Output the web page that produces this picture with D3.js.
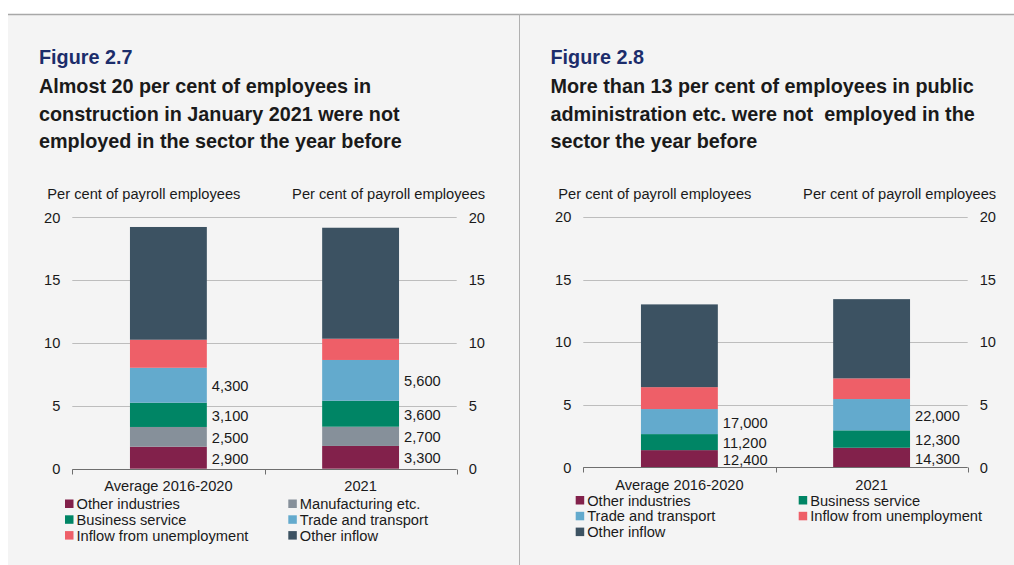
<!DOCTYPE html>
<html>
<head>
<meta charset="utf-8">
<script src="https://cdn.jsdelivr.net/npm/d3@7"></script>
<style>
  html, body { margin: 0; padding: 0; background: #ffffff; }
  svg { display: block; font-family: "Liberation Sans", Arial, Helvetica, sans-serif; }
</style>
</head>
<body>
<svg id="chart" width="1014" height="565"></svg>
<script>
// Periods on the x axis
const periods = ["Average 2016-2020", "2021"];
const yTicks = [0, 5, 10, 15, 20];
const axisTitle = "Per cent of payroll employees";

// Figure 2.7 – construction
const constructionSeries = ["Other industries", "Manufacturing etc.", "Business service",
  "Trade and transport", "Inflow from unemployment", "Other inflow"];
const constructionAvg = [1.75, 1.57, 1.93, 2.78, 2.23, 8.97];
const construction2021 = [1.81, 1.53, 2.07, 3.24, 1.69, 8.83];
const constructionCountsAvg = ["2,900", "2,500", "3,100", "4,300"];
const constructionCounts2021 = ["3,300", "2,700", "3,600", "5,600"];

// Figure 2.8 – public administration etc.
const publicSeries = ["Other industries", "Business service", "Trade and transport",
  "Inflow from unemployment", "Other inflow"];
const publicAvg = [1.38, 1.28, 2.00, 1.75, 6.61];
const public2021 = [1.57, 1.39, 2.50, 1.65, 6.33];
const publicCountsAvg = ["12,400", "11,200", "17,000"];
const publicCounts2021 = ["14,300", "12,300", "22,000"];

const seriesColor = {
  "Other industries": "#82214b",
  "Manufacturing etc.": "#86909a",
  "Business service": "#008565",
  "Trade and transport": "#63aacd",
  "Inflow from unemployment": "#ee5f68",
  "Other inflow": "#3c5262"
};

const svg = d3.select("#chart");

// Page frame: grey panel, top rule and divider
svg.append("rect").attr("x", 8).attr("y", 14).attr("width", 1006).attr("height", 551).attr("fill", "#f4f4f4");
svg.append("line").attr("x1", 8).attr("x2", 1014).attr("y1", 14.5).attr("y2", 14.5)
  .attr("stroke", "#a8a8a8").attr("stroke-width", 1.3);
svg.append("line").attr("x1", 519.5).attr("x2", 519.5).attr("y1", 14).attr("y2", 565)
  .attr("stroke", "#b0b0b0").attr("stroke-width", 1);

function drawPanel(cfg) {
  const g = svg.append("g");

  // Heading
  g.append("text").attr("x", cfg.left).attr("y", 64)
    .attr("font-size", 19.8).attr("font-weight", "bold").attr("fill", "#1c2d6b")
    .text(cfg.figure);
  cfg.title.forEach((line, i) => {
    g.append("text").attr("x", cfg.left).attr("y", 93 + i * 27.6)
      .attr("font-size", 19.8).attr("font-weight", "bold").attr("fill", "#1a1a1a")
      .attr("xml:space", "preserve")
      .text(line);
  });

  const y = d3.scaleLinear().domain([0, 20]).range([cfg.y0, cfg.y20]);
  const x = d3.scaleBand().domain(periods).range([cfg.x0, cfg.x1]).padding(0);
  const barW = x.bandwidth() * 0.4;

  // Axis titles
  g.append("text").attr("x", cfg.x0 - 25).attr("y", 199).attr("font-size", 14.67).attr("fill", "#1a1a1a")
    .text(axisTitle);
  g.append("text").attr("x", cfg.x1 + 28.5).attr("y", 199).attr("font-size", 14.67).attr("fill", "#1a1a1a")
    .attr("text-anchor", "end").text(axisTitle);

  // Gridlines
  g.selectAll(".grid").data(yTicks.filter(t => t > 0)).join("line")
    .attr("x1", cfg.x0).attr("x2", cfg.x1)
    .attr("y1", d => Math.round(y(d)) + 0.5).attr("y2", d => Math.round(y(d)) + 0.5)
    .attr("stroke", "#bdbdbd").attr("stroke-width", 1);

  // Left and right tick labels
  const leftAxis = d3.axisLeft(y).tickValues(yTicks).tickSize(0).tickPadding(12);
  const rightAxis = d3.axisRight(y).tickValues(yTicks).tickSize(0).tickPadding(12);
  [g.append("g").attr("transform", `translate(${cfg.x0},0)`).call(leftAxis),
   g.append("g").attr("transform", `translate(${cfg.x1},0)`).call(rightAxis)].forEach(a => {
    a.select(".domain").remove();
    a.selectAll("text").attr("font-size", 14.67).attr("fill", "#1a1a1a")
      .attr("font-family", "Liberation Sans, Arial, sans-serif");
  });

  // Stacked bars
  cfg.values.forEach((vals, pi) => {
    const p = periods[pi];
    const bx = x(p) + (x.bandwidth() - barW) / 2;
    let cum = 0;
    const segs = vals.map((v, si) => {
      const s = { name: cfg.series[si], lo: cum, hi: cum + v };
      cum += v;
      return s;
    });
    g.selectAll(null).data(segs).join("rect")
      .attr("x", bx).attr("width", barW)
      .attr("y", d => y(d.hi)).attr("height", d => y(d.lo) - y(d.hi))
      .attr("fill", d => seriesColor[d.name]);

    // Employee counts beside the lower segments
    const counts = cfg.counts[pi];
    g.selectAll(null).data(segs.slice(0, counts.length)).join("text")
      .attr("x", bx + barW + 5)
      .attr("y", d => (y(d.lo) + y(d.hi)) / 2 + 1)
      .attr("dominant-baseline", "central")
      .attr("font-size", 14.67).attr("fill", "#1a1a1a")
      .text((d, i) => counts[i]);

    // Category label
    g.append("text").attr("x", x(p) + x.bandwidth() / 2).attr("y", cfg.y0 + 22.5)
      .attr("text-anchor", "middle").attr("font-size", 14.67).attr("fill", "#1a1a1a")
      .text(p);
  });

  // Baseline with tick marks at the category boundaries
  const axisY = Math.round(y(0)) + 0.5;
  g.append("line").attr("x1", cfg.x0).attr("x2", cfg.x1).attr("y1", axisY).attr("y2", axisY)
    .attr("stroke", "#6e6e6e").attr("stroke-width", 1.2);
  const boundaries = [cfg.x0, x(periods[1]), cfg.x1];
  g.selectAll(null).data(boundaries).join("line")
    .attr("x1", d => Math.round(d) + 0.5).attr("x2", d => Math.round(d) + 0.5)
    .attr("y1", axisY).attr("y2", axisY + 5)
    .attr("stroke", "#6e6e6e").attr("stroke-width", 1);

  // Legend in two columns
  cfg.series.forEach((name, i) => {
    const col = i % 2, row = Math.floor(i / 2);
    const lx = cfg.legendX[col];
    const ly = cfg.legendY + row * 15.8;
    g.append("rect").attr("x", lx).attr("y", ly - 4).attr("width", 8.5).attr("height", 8.5)
      .attr("fill", seriesColor[name]);
    g.append("text").attr("x", lx + 11.5).attr("y", ly + 0.5).attr("dominant-baseline", "central")
      .attr("font-size", 14.67).attr("fill", "#1a1a1a").text(name);
  });
}

drawPanel({
  figure: "Figure 2.7",
  title: ["Almost 20 per cent of employees in",
          "construction in January 2021 were not",
          "employed in the sector the year before"],
  left: 39,
  x0: 72.3, x1: 456.7, y0: 468.7, y20: 217.3,
  series: constructionSeries,
  values: [constructionAvg, construction2021],
  counts: [constructionCountsAvg, constructionCounts2021],
  legendX: [65, 288.3], legendY: 503.5
});

drawPanel({
  figure: "Figure 2.8",
  title: ["More than 13 per cent of employees in public",
          "administration etc. were not  employed in the",
          "sector the year before"],
  left: 550.5,
  x0: 583.3, x1: 967.7, y0: 467.4, y20: 217,
  series: publicSeries,
  values: [publicAvg, public2021],
  counts: [publicCountsAvg, publicCounts2021],
  legendX: [575.7, 798.7], legendY: 500
});
</script>
</body>
</html>
